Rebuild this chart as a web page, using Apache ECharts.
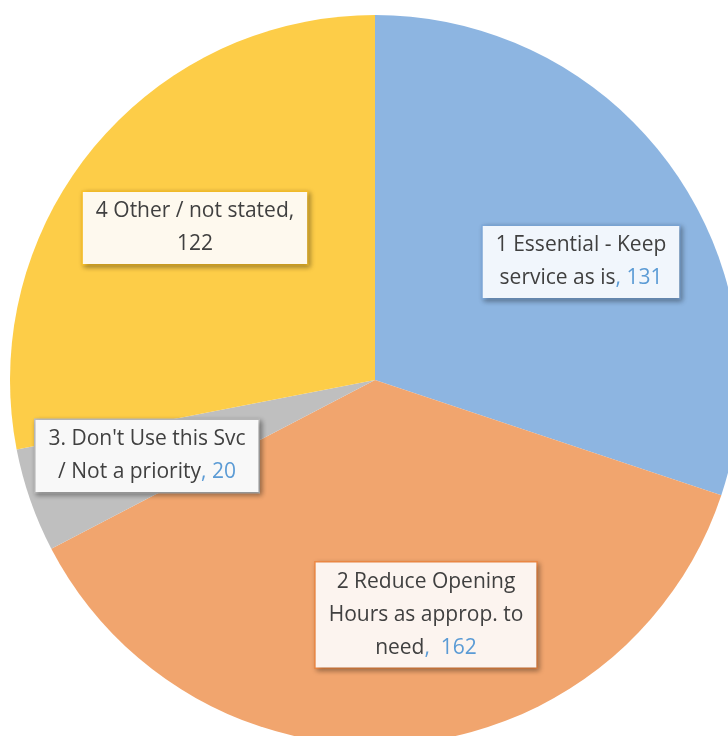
<!DOCTYPE html>
<html><head><meta charset="utf-8">
<script src="https://cdn.jsdelivr.net/npm/echarts@6/dist/echarts.min.js"></script>
<style>html,body{margin:0;padding:0;background:#fff}#c{width:728px;height:736px}</style>
</head><body><div id="c"></div>
<script>
const categories = ['1 Essential - Keep\nservice as is', '2 Reduce Opening\nHours as approp. to\nneed', '3. Don\'t Use this Svc\n/ Not a priority', '4 Other / not stated,\n'];
const values = [131, 162, 20, 122];
const sep = [', ', ',  ', ', ', ''];
const sliceColors = ['#8DB5E1', '#F1A56E', '#BFBFBF', '#FDCD48'];
const boxBg = ['#F1F6FC', '#FCF4EF', '#F8F8F8', '#FEF9EE'];
const boxBorder = ['#7FAADC', '#EE8A45', '#BFBFBF', '#FDC42B'];
const valueColor = ['#5B9BD5', '#5B9BD5', '#5B9BD5', '#404040'];
const labelPos = [[581, 262], [426, 615], [147, 456], [195, 228]];

const chart = echarts.init(document.getElementById('c'));
const data = values.map((v, i) => {
  const lines = categories[i].split('\n');
  const last = lines.pop();
  let f = lines.map(l => '{t|' + l + '}').join('\n');
  f += '\n' + (last ? '{t|' + last + '}' : '') + '{v|' + sep[i] + v + '}';
  return {
    value: v, name: categories[i].replace(/\n/g, ' '),
    itemStyle: { color: sliceColors[i] },
    label: {
      formatter: f,
      backgroundColor: boxBg[i], borderColor: boxBorder[i], borderWidth: 1.5,
      rich: { t: { color: '#404040' }, v: { color: valueColor[i] } }
    }
  };
});
chart.setOption({
  animation: false,
  series: [{
    type: 'pie', center: [375, 380], radius: 365, startAngle: 90, clockwise: true,
    data: data,
    itemStyle: { borderWidth: 0 },
    label: {
      show: true, position: 'inside',
      fontFamily: 'Open Sans', fontSize: 21, lineHeight: 33, color: '#404040',
      align: 'center', padding: [3, 13, 3, 13],
      shadowBlur: 5, shadowOffsetX: 2, shadowOffsetY: 2, shadowColor: 'rgba(0,0,0,0.3)',
      rich: {}
    },
    labelLine: { show: false },
    labelLayout: function (p) {
      const pos = labelPos[p.dataIndex];
      return { x: pos[0], y: pos[1], align: 'center', verticalAlign: 'middle' };
    }
  }]
});
</script></body></html>
